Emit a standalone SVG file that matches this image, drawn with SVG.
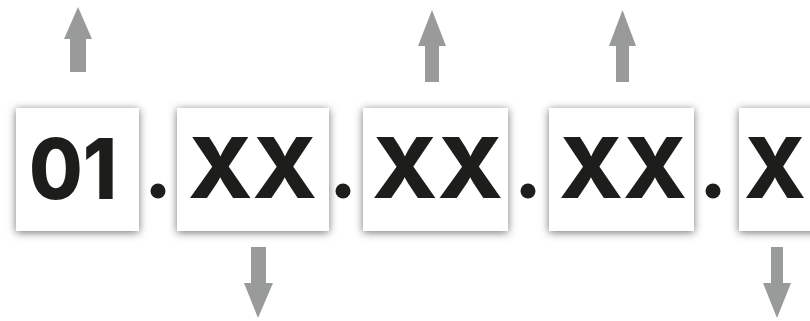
<svg xmlns="http://www.w3.org/2000/svg" width="810" height="321" viewBox="0 0 810 321">
<defs>
<filter id="sh" x="-20%" y="-20%" width="140%" height="140%">
<feDropShadow dx="0" dy="1.5" stdDeviation="4.5" flood-color="#000" flood-opacity="0.55"/>
</filter>
</defs>
<style>
.box{fill:#fff;filter:url(#sh)}
.t{font-family:Inter,"DejaVu Sans",sans-serif;font-weight:800;font-size:84px;fill:#1d1d1b}
.dot{fill:#1d1d1b}
.ar{fill:#999a9a}
</style>
<rect width="810" height="321" fill="#fff"/>
<g id="connectors">
<polygon class="ar" points="78,7 92,39 86,39 86,72 70,72 70,39 64,39"/>
<polygon class="ar" points="432,10 446,46 439,46 439,82 425,82 425,46 418,46"/>
<polygon class="ar" points="622.5,10 636,46 629,46 629,82 616,82 616,46 609,46"/>
<polygon class="ar" points="258,318 273,283 266,283 266,247 251,247 251,283 244,283"/>
<polygon class="ar" points="777,318 791,283 783,283 783,247 771,247 771,283 763,283"/>
</g>
<g id="node1">
<rect class="box" x="16" y="108" width="123" height="123"/>
<text class="t" x="29" y="199" textLength="88" lengthAdjust="spacingAndGlyphs">01</text>
</g>
<g id="dot1"><circle class="dot" cx="158" cy="191" r="7.5"/></g>
<g id="node2">
<rect class="box" x="177" y="108" width="152" height="123"/>
<text class="t" x="188" y="198" textLength="129" lengthAdjust="spacingAndGlyphs">XX</text>
</g>
<g id="dot2"><circle class="dot" cx="343" cy="191" r="7.5"/></g>
<g id="node3">
<rect class="box" x="363" y="108" width="145" height="123"/>
<text class="t" x="372" y="198" textLength="131" lengthAdjust="spacingAndGlyphs">XX</text>
</g>
<g id="dot3"><circle class="dot" cx="528" cy="191" r="7.5"/></g>
<g id="node4">
<rect class="box" x="549" y="108" width="145" height="123"/>
<text class="t" x="559" y="198" textLength="128" lengthAdjust="spacingAndGlyphs">XX</text>
</g>
<g id="dot4"><circle class="dot" cx="713" cy="191" r="7.5"/></g>
<g id="node5">
<rect class="box" x="739" y="108" width="100" height="123"/>
<text class="t" x="744" y="198" textLength="62" lengthAdjust="spacingAndGlyphs">X</text>
</g>
</svg>
